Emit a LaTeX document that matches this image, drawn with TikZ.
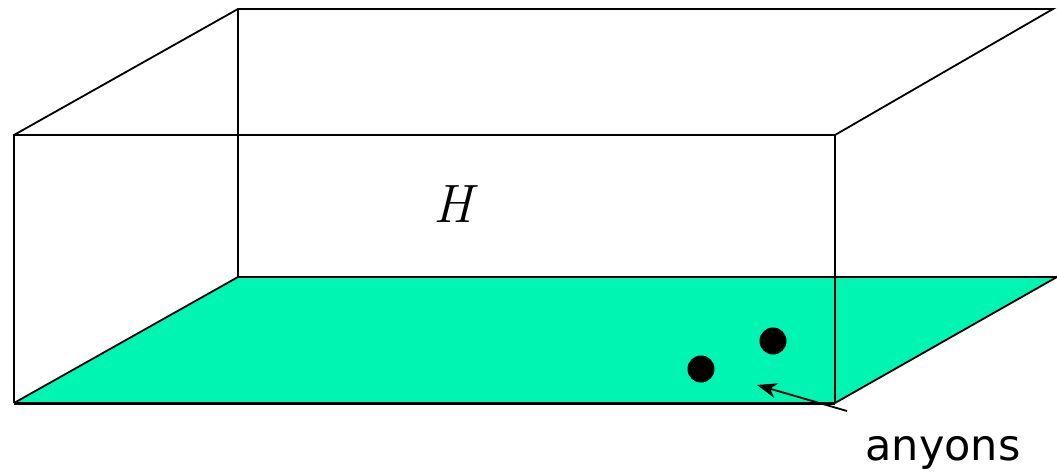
\documentclass[tikz,border=0pt]{standalone}
\usepackage{fontspec}
\newfontfamily\labelfont{DejaVu Sans}
\usetikzlibrary{arrows.meta}
\definecolor{plane}{RGB}{0,245,178}
\tikzset{edge/.style={line width=1.8pt,black},
  dot/.style={circle,fill=black,inner sep=0pt,minimum size=27pt}}
\begin{document}
\begin{tikzpicture}[x=1pt,y=-1pt]
\useasboundingbox (0,0) rectangle (1057,473);
% corners
\coordinate (FLT) at (14,135);
\coordinate (FLB) at (14,403);
\coordinate (FRT) at (835,135);
\coordinate (FRB) at (835,403);
\coordinate (BLT) at (238,9);
\coordinate (BLB) at (238,277);
\coordinate (BRT) at (1053,9);
\coordinate (PR) at (1057,277);
% plane
\fill[plane] (FLB) -- (FRB) -- (PR) -- (BLB) -- cycle;
\draw[edge,line join=round] (BLB) -- (FLB);
\draw[line width=3pt] (FLB) -- (FRB);
\draw[edge] (FRB) -- (PR);
\draw[edge] (BLB) -- (PR);
% box
\draw[edge] (FLB) -- (FLT) -- (FRT) -- (FRB);
\draw[edge] (FLT) -- (BLT) -- (BRT) -- (FRT);
\draw[edge] (BLT) -- (BLB);
% label H
\node (H) at (453,204) {\fontsize{54}{60}\selectfont\itshape H};
% anyons
\node[dot] (a1) at (701,369) {};
\node[dot] (a2) at (773,341) {};
\node[font=\labelfont\fontsize{43}{48}\selectfont,anchor=base] (lab) at (943,460) {anyons};
\coordinate (tipA) at (757,385);
\coordinate (tailA) at (847,411);
\draw[line width=1.8pt,-{Stealth[length=20pt,width=15pt]}] (tailA) -- (tipA);
\end{tikzpicture}
\end{document}
